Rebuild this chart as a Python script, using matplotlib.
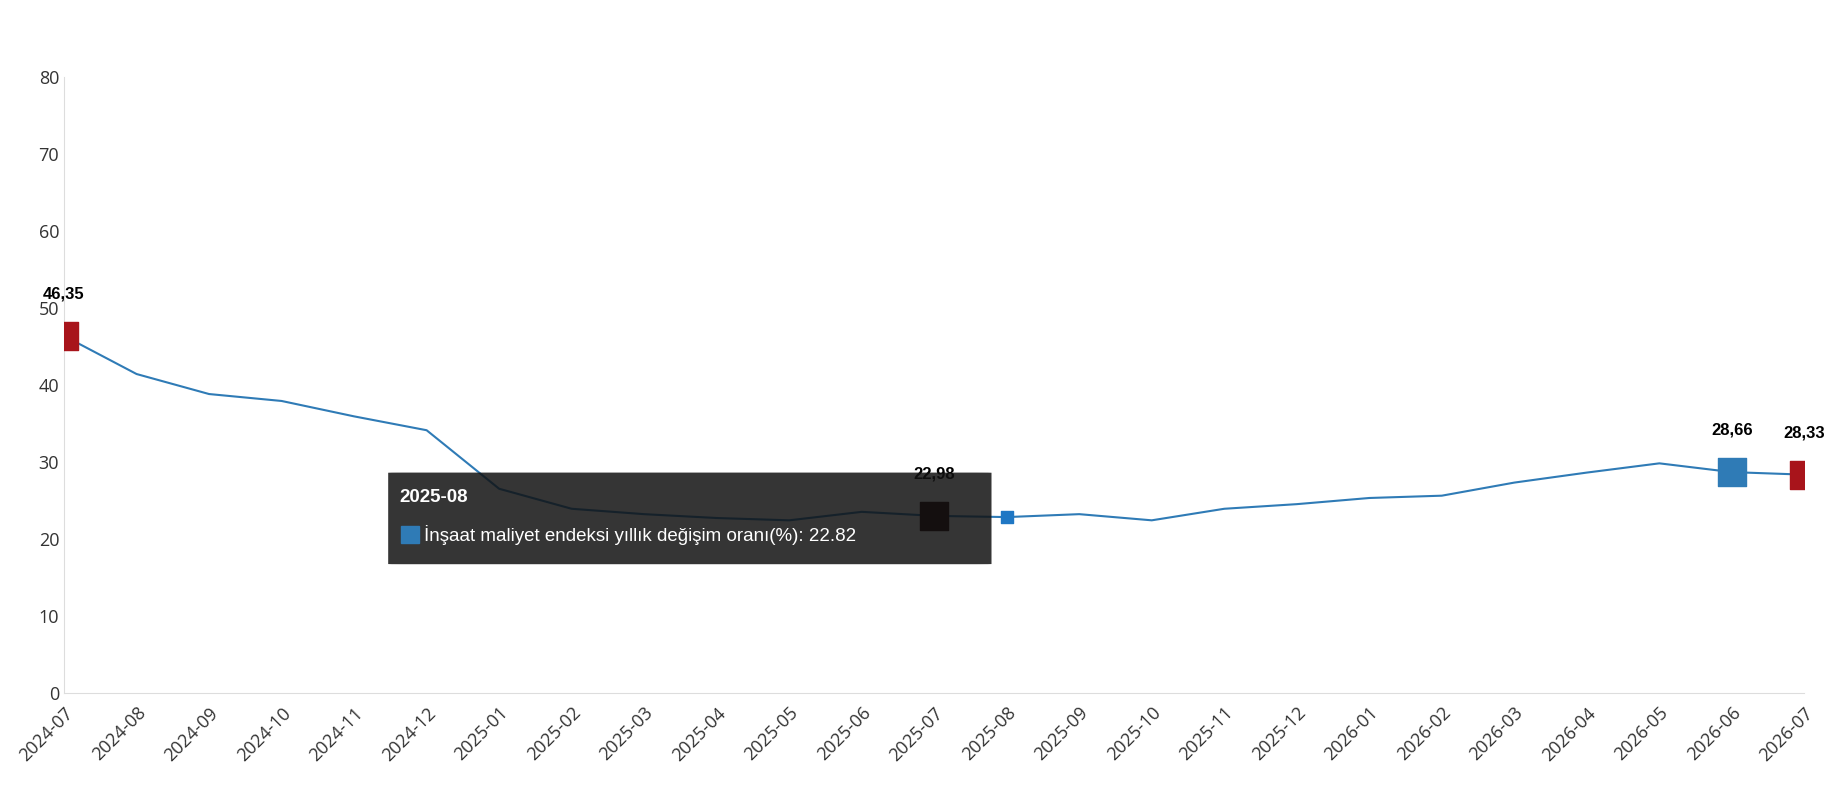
import matplotlib.pyplot as plt
from matplotlib.patches import FancyBboxPatch, Rectangle

months = ['2024-07', '2024-08', '2024-09', '2024-10', '2024-11', '2024-12',
          '2025-01', '2025-02', '2025-03', '2025-04', '2025-05', '2025-06',
          '2025-07', '2025-08', '2025-09', '2025-10', '2025-11', '2025-12',
          '2026-01', '2026-02', '2026-03', '2026-04', '2026-05', '2026-06', '2026-07']
values = [46.35, 41.4, 38.8, 37.9, 35.9, 34.1, 26.5, 23.9, 23.2, 22.7, 22.4, 23.5,
          22.98, 22.82, 23.2, 22.4, 23.9, 24.5, 25.3, 25.6, 27.3, 28.6, 29.8, 28.66, 28.33]
labeled = {0: '#a8141b', 12: '#2a0505', 23: '#2f7bb6', 24: '#a8141b'}
hover = 13

plt.rcParams['font.family'] = ['Open Sans', 'DejaVu Sans']
fig = plt.figure(figsize=(18.3, 8), dpi=100)
ax = fig.add_axes([0.035, 0.134, 0.951, 0.77])
x = list(range(len(months)))
ax.plot(x, values, color='#2f7bb6', lw=1.5, zorder=2)
for i, c in labeled.items():
    ax.scatter(x[i], values[i], marker='s', s=420, color=c, zorder=3)
    ax.text(x[i], values[i] + 4.5, f'{values[i]:.2f}'.replace('.', ','),
            ha='center', va='bottom', fontsize=12, fontweight='bold',
            family='Liberation Sans', zorder=4)
ax.scatter(x[hover], values[hover], marker='s', s=80, color='#1f77c4', zorder=3)

ax.set_xlim(0, len(months) - 1)
ax.set_ylim(0, 80)
ax.set_yticks(range(0, 81, 10))
ax.set_xticks(x)
ax.set_xticklabels(months, rotation=45, ha='right', rotation_mode='anchor')
ax.tick_params(axis='both', length=0, labelsize=13, colors='#333333')
ax.tick_params(axis='x', pad=8)
for s in ['top', 'right']:
    ax.spines[s].set_visible(False)
for s in ['left', 'bottom']:
    ax.spines[s].set_color('#dddddd')

# tooltip
tx0, tx1, ty0, ty1 = 4.47, 12.79, 16.7, 28.6
ax.add_patch(FancyBboxPatch((tx0, ty0), tx1 - tx0, ty1 - ty0,
                            boxstyle='round,pad=0,rounding_size=0.2',
                            mutation_aspect=6.6 / 62.17 * 1,
                            facecolor='#111111', alpha=0.85, edgecolor='none', zorder=5))
ax.text(tx0 + 0.15, 25.3, months[hover], color='white', fontsize=13.5, fontweight='bold',
        family='Liberation Sans', va='center', zorder=6)
ax.add_patch(Rectangle((tx0 + 0.18, 19.4), 0.25, 2.2, color='#2f7bb6', zorder=6))
ax.text(tx0 + 0.5, 20.5, f'İnşaat maliyet endeksi yıllık değişim oranı(%): {values[hover]}',
        color='white', fontsize=13.5, family='Liberation Sans', va='center', zorder=6)

fig.savefig('out.png')
